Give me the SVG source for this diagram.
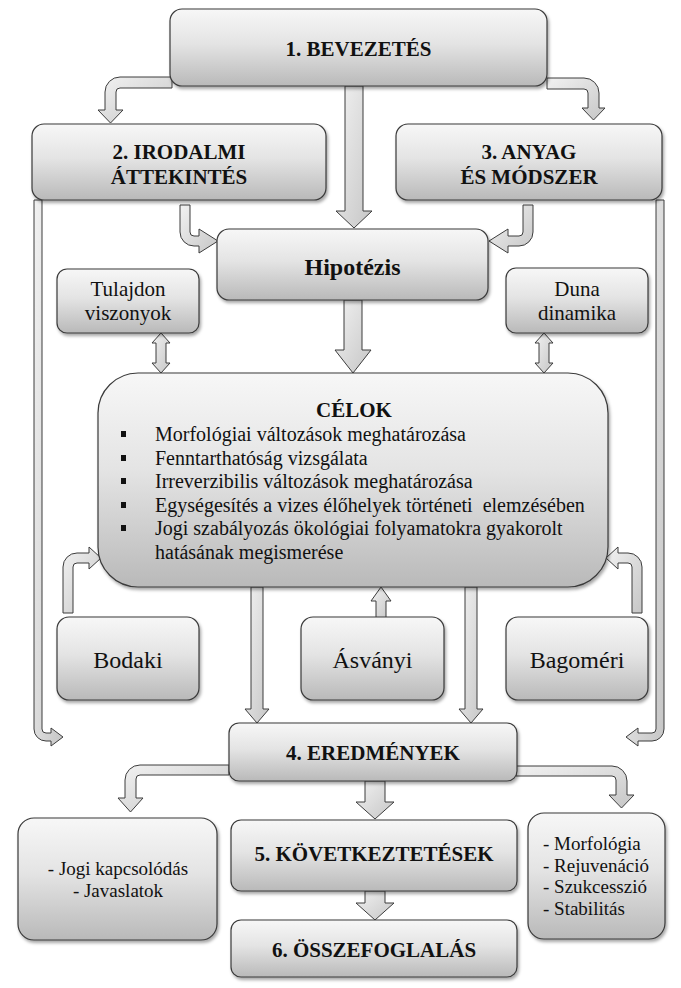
<svg xmlns="http://www.w3.org/2000/svg" width="681" height="988" viewBox="0 0 681 988">
<defs>
<linearGradient id="boxg" x1="0" y1="0" x2="0" y2="1">
<stop offset="0" stop-color="#f7f7f7"/>
<stop offset="0.45" stop-color="#e4e4e4"/>
<stop offset="1" stop-color="#b9b9b9"/>
</linearGradient>
<linearGradient id="arrg" x1="0" y1="0" x2="1" y2="1">
<stop offset="0" stop-color="#f2f2f2"/>
<stop offset="1" stop-color="#c6c6c6"/>
</linearGradient>
<filter id="sh" x="-10%" y="-10%" width="125%" height="130%">
<feDropShadow dx="1.5" dy="2.5" stdDeviation="1.8" flood-color="#000" flood-opacity="0.35"/>
</filter>
<style>
.box{fill:url(#boxg);stroke:#3a3a3a;stroke-width:1.2;filter:url(#sh)}
.arr{fill:url(#arrg);stroke:#3c3c3c;stroke-width:1;stroke-linejoin:miter}
text{fill:#111}
.t{font-weight:bold;font-size:21px;text-anchor:middle}
.h{font-weight:bold;font-size:24px;text-anchor:middle}
.r{font-size:21px;text-anchor:middle}
.b{font-size:24px;text-anchor:middle}
.l{font-size:20px}
.s{font-size:19px}
.bul{fill:#111}
</style>
</defs>

<g id="connectors">
<path class="arr" d="M345,86 H363 V211 H372 L354,228 L336,211 H345 Z"/>
<path class="arr" d="M172,77 H120 A15,15 0 0 0 105,92 V110 H98 L110.5,123 L123,110 H116 V92 A4,4 0 0 1 120,88 H172 Z"/>
<path class="arr" d="M547,78 H584 A15,15 0 0 1 599,93 V108 H605 L593.5,120 L582,108 H588 V93 A4,4 0 0 0 584,89 H547 Z"/>
<path class="arr" d="M180,205 H190 V232 A4,4 0 0 0 194,236 H199 V229 L218,241 L199,253 V246 H194 A14,14 0 0 1 180,232 Z"/>
<path class="arr" d="M533,205 H523 V232 A4,4 0 0 1 519,236 H508 V229 L489,241 L508,253 V246 H519 A14,14 0 0 0 533,232 Z"/>
<path class="arr" d="M344,300 H362 V350 H371 L353,373 L335,350 H344 Z"/>
<path class="arr" d="M161,333 L170,343 H166 V363 H170 L161,373 L152,363 H156 V343 H152 Z"/>
<path class="arr" d="M544,333 L553,343 H549 V363 H553 L544,373 L535,363 H539 V343 H535 Z"/>
<path class="arr" d="M34,200 H42 V729 A4,4 0 0 0 46,733 H51 V728 L63,737 L51,746 V741 H46 A12,12 0 0 1 34,729 Z"/>
<path class="arr" d="M664,200 H656 V729 A4,4 0 0 1 652,733 H638 V728 L626,737 L638,746 V741 H652 A12,12 0 0 0 664,729 Z"/>
<path class="arr" d="M63,613 V567 A14,14 0 0 1 77,553 H89 V547 L101,558 L89,569 V563 H77 A4,4 0 0 0 73,567 V613 Z"/>
<path class="arr" d="M642,613 V567 A14,14 0 0 0 628,553 H618 V547 L606,558 L618,569 V563 H628 A4,4 0 0 1 632,567 V613 Z"/>
<path class="arr" d="M376,618 V601 H371 L381,587 L391,601 H386 V618 Z"/>
<path class="arr" d="M251,587 H263 V709 H269 L257,723 L245,709 H251 Z"/>
<path class="arr" d="M465,587 H477 V709 H483 L471,723 L459,709 H465 Z"/>
<path class="arr" d="M229,765 H140 A15,15 0 0 0 125,780 V798 H118 L130.5,812 L143,798 H136 V779 A4,4 0 0 1 140,775 H229 Z"/>
<path class="arr" d="M516,766 H612 A15,15 0 0 1 627,781 V795 H634 L621.5,808 L609,795 H616 V780 A4,4 0 0 0 612,776 H516 Z"/>
<path class="arr" d="M365,781 H385 V802 H394 L375,819 L356,802 H365 Z"/>
<path class="arr" d="M365,891 H385 V903 H394 L375,920 L356,903 H365 Z"/>
</g>

<g font-family="'Liberation Serif', 'DejaVu Serif', serif">
<g id="bevezetes">
<rect class="box" x="170" y="9" width="377" height="77" rx="12"/>
<text class="t" x="358.5" y="56">1. BEVEZETÉS</text>
</g>
<g id="irodalmi">
<rect class="box" x="32" y="124" width="294" height="76" rx="12"/>
<text class="t" x="179" y="159">2. IRODALMI</text>
<text class="t" x="179" y="184">ÁTTEKINTÉS</text>
</g>
<g id="anyag">
<rect class="box" x="396" y="124" width="266" height="76" rx="12"/>
<text class="t" x="529" y="159">3. ANYAG</text>
<text class="t" x="529" y="184">ÉS MÓDSZER</text>
</g>
<g id="hipotezis">
<rect class="box" x="217" y="229" width="271" height="71" rx="12"/>
<text class="h" x="352.5" y="275">Hipotézis</text>
</g>
<g id="tulajdon">
<rect class="box" x="57" y="269" width="142" height="64" rx="10"/>
<text class="r" x="128" y="296">Tulajdon</text>
<text class="r" x="128" y="320">viszonyok</text>
</g>
<g id="duna">
<rect class="box" x="506" y="268" width="142" height="65" rx="10"/>
<text class="r" x="577" y="296">Duna</text>
<text class="r" x="577" y="320">dinamika</text>
</g>
<g id="celok">
<rect class="box" x="98" y="373" width="510" height="214" rx="40"/>
<text class="t" x="354" y="417">CÉLOK</text>
<rect class="bul" x="121" y="431" width="5" height="6"/>
<rect class="bul" x="121" y="455" width="5" height="6"/>
<rect class="bul" x="121" y="478" width="5" height="6"/>
<rect class="bul" x="121" y="502" width="5" height="6"/>
<rect class="bul" x="121" y="525" width="5" height="6"/>
<text class="l" x="155" y="441">Morfológiai változások meghatározása</text>
<text class="l" x="155" y="465">Fenntarthatóság vizsgálata</text>
<text class="l" x="155" y="488">Irreverzibilis változások meghatározása</text>
<text class="l" x="155" y="512" xml:space="preserve">Egységesítés a vizes élőhelyek történeti  elemzésében</text>
<text class="l" x="155" y="535">Jogi szabályozás ökológiai folyamatokra gyakorolt</text>
<text class="l" x="155" y="559">hatásának megismerése</text>
</g>
<g id="bodaki">
<rect class="box" x="57" y="617" width="142" height="83" rx="12"/>
<text class="b" x="128" y="668">Bodaki</text>
</g>
<g id="asvanyi">
<rect class="box" x="301" y="617" width="143" height="83" rx="12"/>
<text class="b" x="372.5" y="668">Ásványi</text>
</g>
<g id="bagomeri">
<rect class="box" x="506" y="617" width="142" height="83" rx="12"/>
<text class="b" x="577" y="668">Bagoméri</text>
</g>
<g id="eredmenyek">
<rect class="box" x="229" y="723" width="288" height="58" rx="10"/>
<text class="t" x="373" y="760">4. EREDMÉNYEK</text>
</g>
<g id="jogi">
<rect class="box" x="18" y="818" width="199" height="122" rx="16"/>
<text class="s" x="118" y="875" text-anchor="middle">- Jogi kapcsolódás</text>
<text class="s" x="118" y="897" text-anchor="middle">- Javaslatok</text>
</g>
<g id="kovetkeztetesek">
<rect class="box" x="231" y="820" width="286" height="71" rx="10"/>
<text class="t" x="374" y="861">5. KÖVETKEZTETÉSEK</text>
</g>
<g id="osszefoglalas">
<rect class="box" x="231" y="920" width="286" height="57" rx="10"/>
<text class="t" x="374" y="957">6. ÖSSZEFOGLALÁS</text>
</g>
<g id="morfologia">
<rect class="box" x="528" y="813" width="137" height="126" rx="16"/>
<text class="s" x="543" y="850">- Morfológia</text>
<text class="s" x="543" y="872">- Rejuvenáció</text>
<text class="s" x="543" y="893">- Szukcesszió</text>
<text class="s" x="543" y="915">- Stabilitás</text>
</g>
</g>
</svg>
